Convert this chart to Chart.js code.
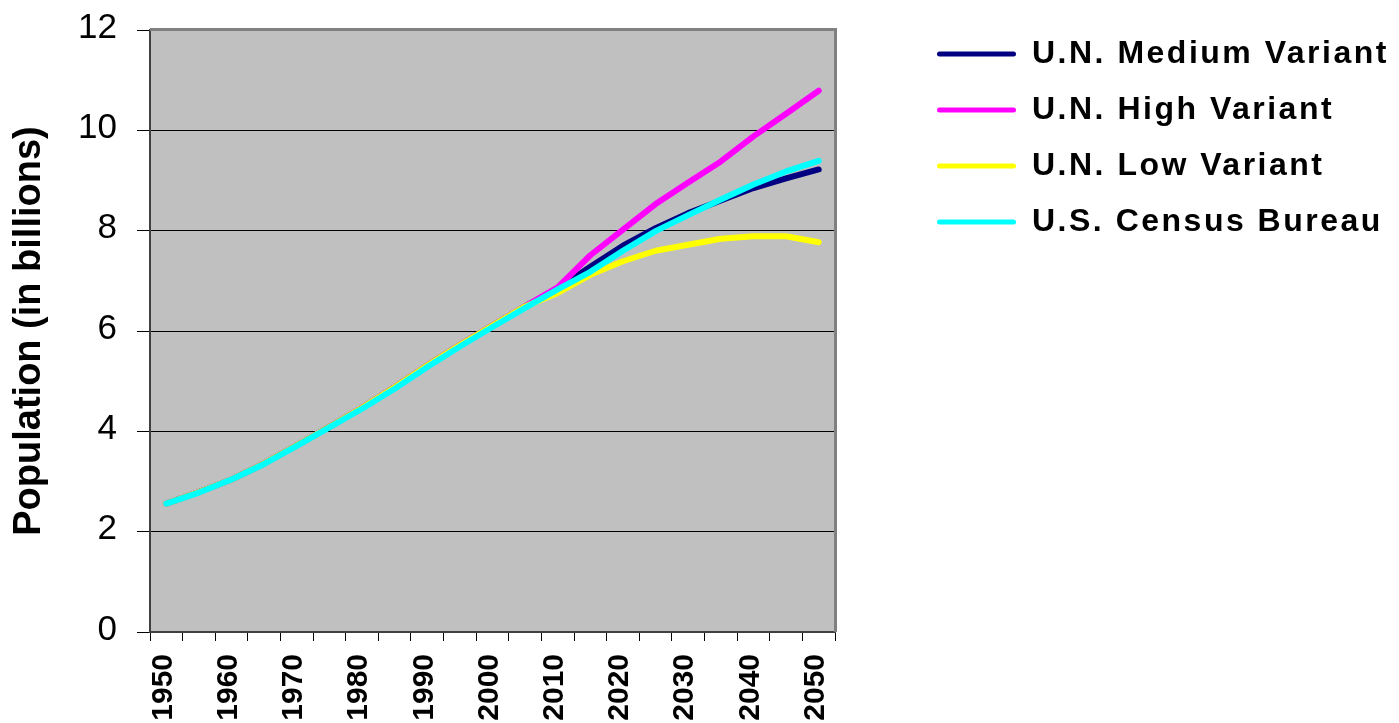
<!DOCTYPE html>
<html>
<head>
<meta charset="utf-8">
<title>World Population Projections</title>
<script src="https://cdn.jsdelivr.net/npm/chart.js@4.4.1/dist/chart.umd.min.js"></script>
<style>
  html, body { margin: 0; padding: 0; background: #ffffff; }
  canvas { display: block; }
</style>
</head>
<body>
<canvas id="chart" width="1399" height="723"></canvas>
<script>
// Five-year steps from 1950 to 2050
const years = ['1950','1955','1960','1965','1970','1975','1980','1985','1990','1995','2000',
               '2005','2010','2015','2020','2025','2030','2035','2040','2045','2050'];
// Years that get a printed label on the x axis
const yearTicks = ['1950','1960','1970','1980','1990','2000','2010','2020','2030','2040','2050'];
// Population, billions
const unMedium = [2.56,2.79,3.04,3.36,3.72,4.09,4.47,4.88,5.31,5.72,6.11,6.49,6.84,7.28,7.70,8.05,8.35,8.60,8.85,9.04,9.22];
const unHigh   = [2.56,2.79,3.04,3.36,3.72,4.09,4.47,4.88,5.31,5.72,6.11,6.49,6.87,7.51,8.02,8.53,8.96,9.38,9.88,10.33,10.79];
const unLow    = [2.56,2.79,3.04,3.36,3.72,4.09,4.47,4.88,5.31,5.72,6.11,6.49,6.76,7.12,7.39,7.60,7.72,7.84,7.89,7.89,7.77];
const census   = [2.56,2.78,3.04,3.35,3.71,4.08,4.45,4.85,5.28,5.69,6.08,6.46,6.83,7.18,7.60,7.99,8.31,8.62,8.92,9.18,9.39];
const seriesNames = ['U.N. Medium Variant', 'U.N. High Variant', 'U.N. Low Variant', 'U.S. Census Bureau'];
const yTicks = [0, 2, 4, 6, 8, 10, 12];

const FONT = "'Liberation Sans', Arial, Helvetica, sans-serif";
const PLOT_LEFT = 150, PLOT_BOTTOM_GAP = 91, LEGEND_WIDTH = 564;
const LEGEND_X = 937, LEGEND_Y = 38;

// Grey plot background plus the light frame on the top and right edges
const plotFrame = {
  id: 'plotFrame',
  beforeDraw(chart) {
    const {ctx, chartArea: a} = chart;
    ctx.save();
    ctx.fillStyle = '#C0C0C0';
    ctx.fillRect(a.left, a.top, a.right - a.left, a.bottom - a.top);
    ctx.restore();
  },
  beforeDatasetsDraw(chart) {
    const {ctx, chartArea: a} = chart;
    ctx.save();
    ctx.strokeStyle = '#808080';
    ctx.lineWidth = 3;
    ctx.beginPath();
    ctx.moveTo(a.left, a.top - 0.5);
    ctx.lineTo(a.right + 0.5, a.top - 0.5);
    ctx.lineTo(a.right + 0.5, a.bottom);
    ctx.stroke();
    ctx.restore();
  }
};

// Fixed-width legend column on the right, with spaced lettering
const legendPlacement = {
  id: 'legendPlacement',
  afterInit(chart) {
    const legend = chart.legend;
    if (!legend) return;
    const fit = legend.fit.bind(legend);
    legend.fit = function () { fit(); this.width = LEGEND_WIDTH; };
    const draw = legend.draw.bind(legend);
    legend.draw = function () {
      const ctx = this.ctx;
      const pad = this.options.labels.padding;
      ctx.save();
      ctx.letterSpacing = '2.5px';
      ctx.translate(LEGEND_X - (this.left + pad), LEGEND_Y - (this.top + pad));
      draw();
      ctx.restore();
    };
  }
};

const colors = ['#000080', '#FF00FF', '#FFFF00', '#00FFFF'];
const values = [unMedium, unHigh, unLow, census];
const drawOrder = [3, 2, 1, 0];

const datasets = seriesNames.map((name, i) => ({
  label: name,
  data: values[i],
  borderColor: colors[i],
  backgroundColor: colors[i],
  borderWidth: 6,
  borderCapStyle: 'round',
  borderJoinStyle: 'round',
  pointRadius: 0,
  pointHoverRadius: 0,
  tension: 0,
  fill: false,
  order: drawOrder[i]
}));

new Chart(document.getElementById('chart'), {
  type: 'line',
  data: { labels: years, datasets },
  plugins: [plotFrame, legendPlacement],
  options: {
    responsive: false,
    animation: false,
    events: [],
    layout: { padding: { top: 30, left: 0, right: 0, bottom: 0 } },
    plugins: {
      tooltip: { enabled: false },
      legend: {
        display: true,
        position: 'right',
        align: 'start',
        labels: {
          font: { family: FONT, size: 32, weight: 'bold' },
          color: '#000000',
          boxWidth: 79,
          boxHeight: 5,
          padding: 24,
          useBorderRadius: true,
          borderRadius: 2.5,
          sort: (a, b) => a.datasetIndex - b.datasetIndex,
          generateLabels(chart) {
            return Chart.defaults.plugins.legend.labels.generateLabels(chart)
              .map(item => Object.assign(item, { lineWidth: 0, fillStyle: item.strokeStyle }));
          }
        }
      }
    },
    scales: {
      x: {
        type: 'category',
        offset: true,
        grid: {
          display: true,
          offset: true,
          drawOnChartArea: false,
          drawTicks: true,
          tickLength: 9,
          color: '#000000',
          tickColor: '#000000',
          lineWidth: 1
        },
        border: { display: true, color: '#404040', width: 2 },
        ticks: {
          autoSkip: false,
          minRotation: 90,
          maxRotation: 90,
          padding: 13,
          labelOffset: -3,
          color: '#000000',
          font: { family: FONT, size: 30, weight: 'bold' },
          callback: (value, index) => yearTicks.includes(years[index]) ? years[index] : ''
        },
        afterFit(scale) { scale.height = PLOT_BOTTOM_GAP; }
      },
      y: {
        min: 0,
        max: 12,
        afterBuildTicks(scale) { scale.ticks = yTicks.map(v => ({ value: v })); },
        grid: {
          display: true,
          drawOnChartArea: true,
          drawTicks: true,
          tickLength: 13,
          color: '#000000',
          tickColor: '#000000',
          lineWidth: 1
        },
        border: { display: true, color: '#404040', width: 2 },
        ticks: {
          padding: 20,
          labelOffset: -2,
          color: '#000000',
          font: { family: FONT, size: 35, weight: 'normal' }
        },
        title: {
          display: true,
          text: 'Population (in billions)',
          color: '#000000',
          font: { family: FONT, size: 38, weight: 'bold' },
          padding: { top: 7, bottom: 0 }
        },
        afterFit(scale) {
          scale.width = PLOT_LEFT;
          // only half a label needs to fit above the top tick
          scale.paddingTop = 22;
          scale.paddingBottom = 22;
        }
      }
    }
  }
});
</script>
</body>
</html>
